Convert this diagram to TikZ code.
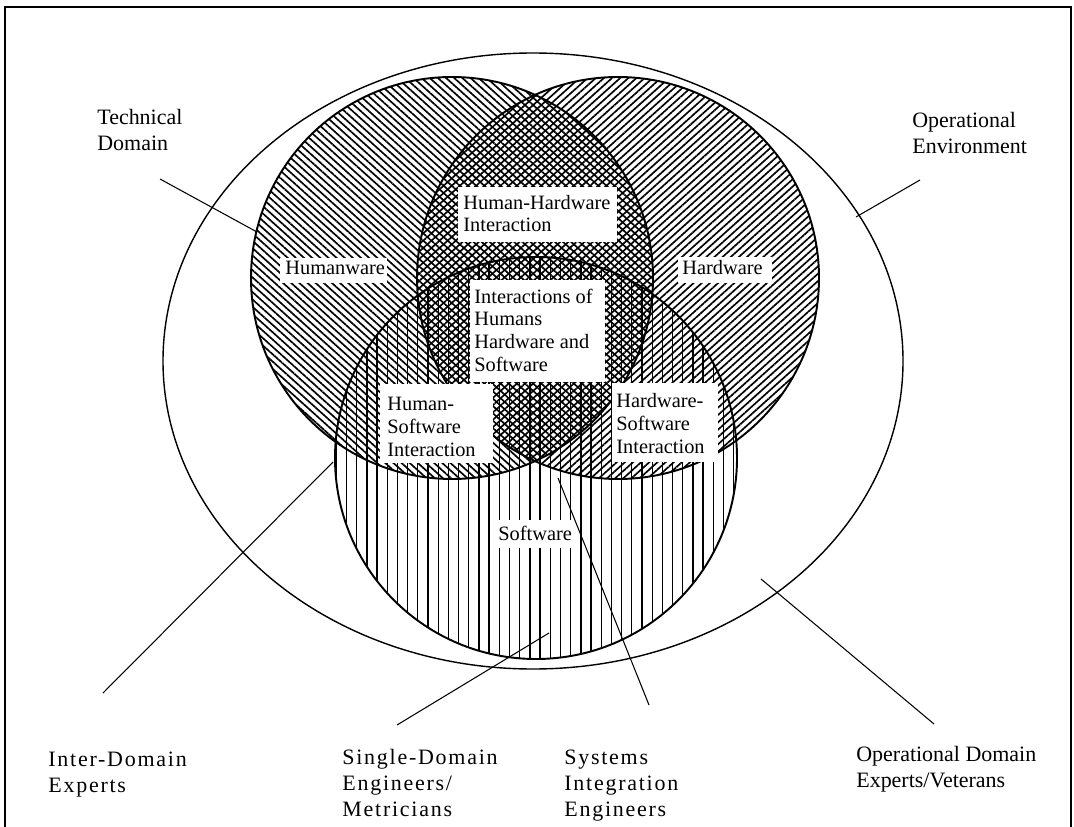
\documentclass[tikz,border=0pt]{standalone}
\usepackage{fontspec}
\setmainfont{Liberation Serif}
\newfontfamily\spacedfont[LetterSpace=8]{Liberation Serif}
\usetikzlibrary{patterns.meta}
\begin{document}
\begin{tikzpicture}[x=0.02cm,y=-0.02cm,
  inlbl/.style={font=\fontsize{11.6pt}{12.9pt}\selectfont, align=left, inner sep=0pt, anchor=base west},
  outlbl/.style={font=\fontsize{12.5pt}{14.8pt}\selectfont, align=left, inner sep=0pt, anchor=base west},
  splbl/.style={font=\spacedfont\fontsize{12.5pt}{14.8pt}\selectfont, align=left, inner sep=0pt, anchor=base west},
  wbox/.style={fill=white, draw=none, inner sep=0pt},
  conn/.style={line width=0.6pt},
  ring/.style={line width=1.1pt},
  hatchH/.style={pattern={Lines[angle=-42,distance=3.1pt,line width=0.95pt]}},
  hatchW/.style={pattern={Lines[angle=42,distance=3.1pt,line width=0.95pt]}},
  hatchS/.style={pattern={Lines[angle=90,distance=5.8pt,line width=0.75pt]}}]
\useasboundingbox (0,0) rectangle (1074,827);
% frame
\draw[line width=1.1pt] (5,835) -- (5,7) -- (1071,7) -- (1071,835);
% operational environment ellipse
\draw[line width=0.8pt] (533,361) ellipse[x radius=370, y radius=308];
% hatched circles
\fill[hatchH] (452,278) circle[radius=201];
\fill[hatchW] (618,278) circle[radius=201];
\fill[hatchS] (536,458) circle[radius=201];
\draw[ring] (452,278) circle[radius=201];
\draw[ring] (618,278) circle[radius=201];
\draw[ring] (536,458) circle[radius=201];
% white label boxes
\fill[wbox] (280,258) rectangle (387,283);
\fill[wbox] (678,257) rectangle (772,283);
\fill[wbox] (458,187) rectangle (617,242);
\fill[wbox] (470,280) rectangle (605,382);
\fill[wbox] (380,384) rectangle (493,463);
\fill[wbox] (612,383) rectangle (718,462);
\fill[wbox] (496,520) rectangle (575,548);
% inner labels (anchor = baseline of last line)
\node[inlbl] (humanware) at (285,275) {Humanware};
\node[inlbl] (hardware) at (682,275) {Hardware};
\node[inlbl] (hhi) at (463,232) {Human-Hardware\\Interaction};
\node[inlbl] (hhs) at (474,371) {Interactions of\\Humans\\Hardware and\\Software};
\node[inlbl] (hsi) at (387,456) {Human-\\Software\\Interaction};
\node[inlbl] (hwsi) at (616,453) {Hardware-\\Software\\Interaction};
\node[inlbl] (software) at (498,540) {Software};
% outer labels
\node[outlbl] (tech) at (97,151) {Technical\\Domain};
\node[outlbl] (openv) at (912,154) {Operational\\Environment};
\node[splbl] (inter) at (48,792) {Inter-Domain\\Experts};
\node[splbl] (single) at (342,816) {Single-Domain\\Engineers/\\Metricians};
\node[splbl] (sysint) at (564,816) {Systems\\Integration\\Engineers};
\node[outlbl] (opdom) at (856,787) {Operational Domain\\Experts/Veterans};
% connector end points
\coordinate (techA) at (160,179);
\coordinate (techB) at (257,232);
\coordinate (openvA) at (920,180);
\coordinate (openvB) at (856,217);
\coordinate (interA) at (103,693);
\coordinate (interB) at (333,462);
\coordinate (singleA) at (397,725);
\coordinate (singleB) at (549,633);
\coordinate (sysintA) at (649,705);
\coordinate (sysintB) at (558,478);
\coordinate (opdomA) at (934,724);
\coordinate (opdomB) at (761,579);
% connectors
\draw[conn] (techA) -- (techB);
\draw[conn] (openvA) -- (openvB);
\draw[conn] (interA) -- (interB);
\draw[conn] (singleA) -- (singleB);
\draw[conn] (sysintA) -- (sysintB);
\draw[conn] (opdomA) -- (opdomB);
\end{tikzpicture}
\end{document}
